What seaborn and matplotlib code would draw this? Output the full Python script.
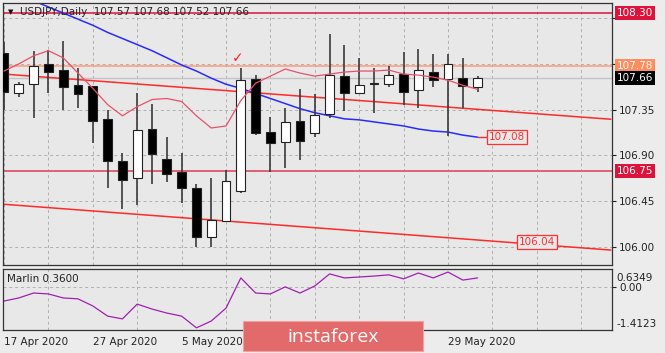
import matplotlib
matplotlib.use("Agg")
from matplotlib import pyplot as plt
from matplotlib.patches import Rectangle
import numpy as np
import pandas as pd
import seaborn as sns

# USDJPY daily, 17 Apr 2020 .. 2 Jun 2020 (one entry per trading day)
opens = [107.91, 107.51, 107.60, 107.80, 107.74, 107.59, 107.58, 107.26, 106.85, 106.68,
         107.16, 106.87, 106.74, 106.58, 106.10, 106.26, 106.55, 107.65, 107.13, 107.03,
         107.24, 107.12, 107.31, 107.68, 107.51, 107.60, 107.60, 107.70, 107.54, 107.72,
         107.65, 107.66, 107.57]
highs = [108.02, 107.62, 107.93, 107.94, 108.03, 107.76, 107.58, 107.35, 106.92, 107.51,
         107.41, 107.08, 106.92, 106.62, 106.68, 106.76, 107.76, 107.69, 107.28, 107.37,
         107.55, 107.50, 108.09, 107.99, 107.86, 107.76, 107.78, 107.92, 107.95, 107.90,
         107.90, 107.86, 107.68]
lows = [107.35, 107.47, 107.27, 107.51, 107.35, 107.37, 107.02, 106.58, 106.37, 106.41,
        106.62, 106.64, 106.43, 106.00, 106.00, 106.25, 106.53, 107.10, 106.74, 106.78,
        106.86, 107.08, 107.27, 107.34, 107.51, 107.32, 107.57, 107.40, 107.37, 107.57,
        107.09, 107.37, 107.52]
closes = [107.52, 107.60, 107.78, 107.72, 107.57, 107.50, 107.24, 106.85, 106.66, 107.15,
          106.91, 106.72, 106.58, 106.10, 106.27, 106.65, 107.64, 107.12, 107.02, 107.23,
          107.04, 107.30, 107.69, 107.51, 107.59, 107.61, 107.69, 107.52, 107.74, 107.64,
          107.80, 107.58, 107.66]

ma_blue = [108.52, 108.48, 108.42, 108.36, 108.30, 108.24, 108.18, 108.11, 108.05, 107.99,
           107.93, 107.86, 107.79, 107.73, 107.66, 107.60, 107.56, 107.51, 107.46, 107.41,
           107.36, 107.32, 107.29, 107.26, 107.25, 107.23, 107.21, 107.19, 107.16, 107.14,
           107.13, 107.10, 107.08]
ma_pink = [107.73, 107.80, 107.88, 107.93, 107.86, 107.71, 107.56, 107.40, 107.29, 107.38,
           107.45, 107.46, 107.43, 107.29, 107.17, 107.19, 107.44, 107.61, 107.68, 107.75,
           107.71, 107.68, 107.70, 107.72, 107.73, 107.73, 107.74, 107.70, 107.69, 107.67,
           107.64, 107.59, 107.55]
marlin = [-0.44, -0.34, -0.18, -0.21, -0.34, -0.37, -0.60, -0.93, -1.02, -0.54,
          -0.70, -0.83, -0.93, -1.31, -1.09, -0.67, 0.31, -0.18, -0.21, 0.02,
          -0.18, 0.05, 0.44, 0.31, 0.34, 0.37, 0.41, 0.28, 0.47, 0.31,
          0.50, 0.24, 0.31]

trend_x = [0, 41]
trend_upper = [107.70, 107.256]
trend_lower = [106.42, 105.97]

level_high = 108.30
level_orange = 107.78
level_last = 107.66
level_low = 106.75

date_pos = [0, 6, 12, 30]
date_labels = ["17 Apr 2020", "27 Apr 2020", "5 May 2020", "29 May 2020"]
price_ticks = [106.00, 106.45, 106.90, 107.35, 107.80, 108.25]
# 107.80 and 108.25 sit under the level boxes on the reference
price_tick_labels = ["106.00", "106.45", "106.90", "107.35", "", ""]

bars = pd.DataFrame({"bar": np.arange(len(opens)), "open": opens, "high": highs,
                     "low": lows, "close": closes, "ma_blue": ma_blue,
                     "ma_pink": ma_pink, "marlin": marlin})

sns.set_style("whitegrid", {"axes.facecolor": "#e8e8e8", "figure.facecolor": "#ececec",
                            "axes.edgecolor": "#333333"})
plt.rcParams['font.family'] = ['DejaVu Sans']

fig = plt.figure(figsize=(6.65, 3.53), dpi=100)
ax = fig.add_axes([0.0045, 0.2493, 0.9158, 0.7422])
ax2 = fig.add_axes([0.0045, 0.0652, 0.9158, 0.1728])

xlim = (-0.07, 41.08)
grid_kw = dict(color="#b0b0b0", linestyle=(0, (3, 3)), linewidth=0.7)

# ---------------- main price panel
ax.set_xlim(*xlim)
ax.set_ylim(105.823, 108.399)
ax.set_xticks(np.arange(0, 41, 3))
ax.set_xticklabels([])
ax.set_yticks(price_ticks)
ax.set_yticklabels(price_tick_labels)
ax.yaxis.tick_right()
ax.tick_params(axis="x", length=0)
ax.tick_params(axis="y", length=3, pad=2, labelsize=7.5, colors="#222222")
ax.grid(True, **grid_kw)
for s in ax.spines.values():
    s.set_linewidth(0.9)

# horizontal levels
ax.axhline(level_high, color="#dc143c", lw=1.1, zorder=2)
ax.axhline(level_orange, color="#ff9a78", lw=1.1, zorder=2)
ax.axhline(level_last, color="#c4c4c4", lw=1.0, zorder=1.5)
ax.axhline(level_low, color="#e0607a", lw=1.4, zorder=2)

# trend lines
sns.lineplot(x=trend_x, y=trend_upper, ax=ax, color="#ff2a2a", lw=1.1, zorder=2)
sns.lineplot(x=trend_x, y=trend_lower, ax=ax, color="#ff2a2a", lw=1.1, zorder=2)

# moving averages
sns.lineplot(data=bars, x="bar", y="ma_blue", ax=ax, color="#2a2aff", lw=1.1, zorder=2)
sns.lineplot(data=bars, x="bar", y="ma_pink", ax=ax, color="#e8506a", lw=0.9, zorder=4)

# candles
up = bars.close >= bars.open
ax.vlines(bars.bar, bars.low, bars.high, color="#3a3a3a", lw=1.2, zorder=3)
ax.bar(bars.bar[up], (bars.close - bars.open)[up], bottom=bars.open[up], width=0.6,
       color="white", edgecolor="#222222", linewidth=0.8, zorder=3.5)
ax.bar(bars.bar[~up], (bars.open - bars.close)[~up], bottom=bars.close[~up], width=0.6,
       color="black", edgecolor="#222222", linewidth=0.8, zorder=3.5)
ax.set_xlabel("")
ax.set_ylabel("")

# right side price boxes
ytr = ax.get_yaxis_transform()
for val, fc in [(level_high, "#dc143c"), (level_orange, "#ff8c5c"),
                (level_last, "black"), (level_low, "#dc143c")]:
    ax.text(1.008, val, f"{val:.2f}", transform=ytr, fontsize=7.5, color="white",
            va="center", ha="left", zorder=6, clip_on=False,
            bbox=dict(boxstyle="square,pad=0.2", fc=fc, ec="none"))

# line end labels
ax.plot([32, 32.75], [107.08, 107.08], color="#ff2a2a", lw=1.0, zorder=4)
ax.text(32.75, 107.08, "107.08", fontsize=7.5, color="#ff3030", va="center", ha="left",
        zorder=6, bbox=dict(boxstyle="square,pad=0.2", fc="#e8e8e8", ec="#ff3030", lw=0.9))
ax.text(34.8, 106.05, "106.04", fontsize=7.5, color="#ff3030", va="center", ha="left",
        zorder=6, bbox=dict(boxstyle="square,pad=0.2", fc="#e8e8e8", ec="#ff3030", lw=0.9))

ax.text(15.8, 107.86, "\u2713", fontsize=10, color="#ff2020", ha="center", va="center", zorder=6)

ax.text(0.009, 0.967, "\u25BC", transform=ax.transAxes, fontsize=5, color="#111111",
        va="center", ha="left", zorder=6)
ax.text(0.028, 0.967, "USDJPY,Daily  107.57 107.68 107.52 107.66", transform=ax.transAxes,
        fontsize=7.5, color="#222222", va="center", ha="left", zorder=6)

# ---------------- Marlin panel
ax2.set_xlim(*xlim)
ax2.set_ylim(-1.38, 0.60)
sns.lineplot(data=bars, x="bar", y="marlin", ax=ax2, color="#a020b0", lw=0.9)
ax2.set_xticks(date_pos)
ax2.set_xticklabels(date_labels, ha="left")
ax2.set_xticks(np.arange(0, 41, 3), minor=True)
ax2.set_yticks([0.0])
ax2.set_yticklabels(["0.00"])
ax2.yaxis.tick_right()
ax2.tick_params(axis="x", which="major", length=3, pad=2, labelsize=7.5, colors="#222222")
ax2.tick_params(axis="x", which="minor", length=0)
ax2.tick_params(axis="y", length=3, pad=2, labelsize=7.5, colors="#222222")
ax2.grid(False)
ax2.grid(True, which="minor", axis="x", **grid_kw)
ax2.grid(True, which="major", axis="y", **grid_kw)
ax2.set_xlabel("")
ax2.set_ylabel("")
for s in ax2.spines.values():
    s.set_linewidth(0.9)
ax2.text(0.007, 0.83, "Marlin 0.3600", transform=ax2.transAxes, fontsize=7.5,
         color="#222222", va="center", ha="left")
ax2.text(1.008, 0.85, "0.6349", transform=ax2.transAxes, fontsize=7.5, color="#222222",
         va="center", ha="left")
ax2.text(1.008, 0.10, "-1.4123", transform=ax2.transAxes, fontsize=7.5, color="#222222",
         va="center", ha="left")

# watermark
fig.add_artist(Rectangle((0.3654, 0.006), 0.2707, 0.085, transform=fig.transFigure,
                         facecolor="#e36a6a", edgecolor="#f0a0a0", lw=0.8, zorder=10))
fig.text(0.5008, 0.046, "instaforex", fontsize=14, color="white", family="Open Sans",
         ha="center", va="center", zorder=11)

fig.savefig("out.png", dpi=100)
